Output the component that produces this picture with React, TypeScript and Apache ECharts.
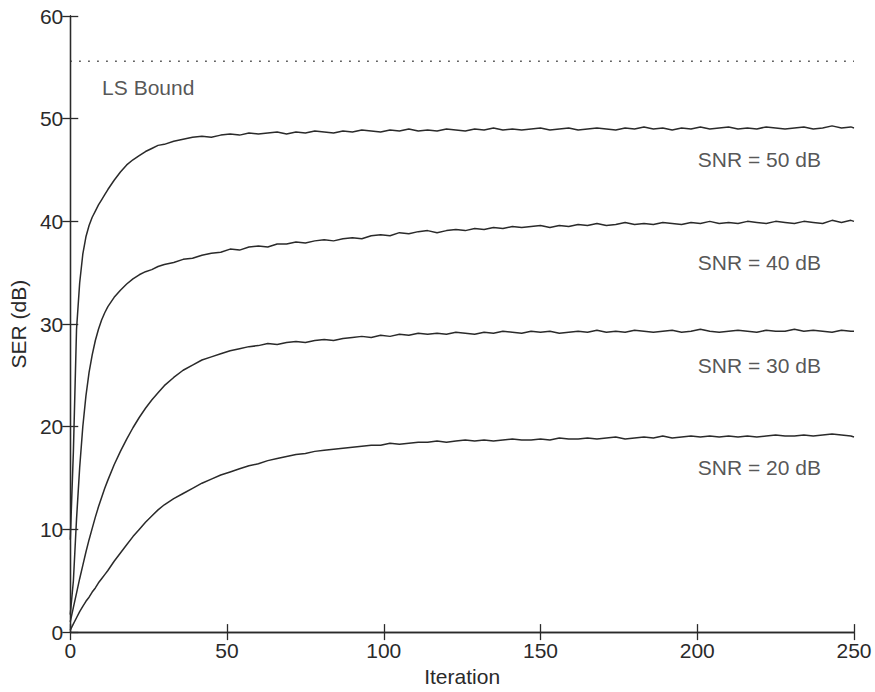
import React, { useEffect, useRef } from "react";
import * as echarts from "echarts";

// Iteration / SER(dB) samples
const SNR50: [number, number][] = [
  [0, 9.0], [1, 17.6], [2, 29.5], [3, 34.0], [4, 36.8], [5, 38.5], [6, 39.6], [7, 40.4], [8, 41.0], [9, 41.6],
  [10, 42.1], [11, 42.6], [12, 43.1], [14, 44.0], [16, 44.8], [18, 45.5], [20, 46.0], [22, 46.4], [24, 46.8],
  [26, 47.1], [28, 47.4], [30, 47.5], [33, 47.8], [36, 48.0], [39, 48.2], [42, 48.3], [45, 48.2], [48, 48.4],
  [51, 48.5], [54, 48.4], [57, 48.6], [60, 48.5], [63, 48.6], [66, 48.7], [69, 48.5], [72, 48.7], [75, 48.6],
  [78, 48.8], [81, 48.7], [84, 48.6], [87, 48.8], [90, 48.7], [93, 48.9], [96, 48.8], [99, 48.7], [102, 48.9],
  [105, 48.8], [108, 49.0], [111, 48.8], [114, 48.9], [117, 48.8], [120, 49.0], [123, 48.9], [126, 48.8],
  [129, 49.0], [132, 48.9], [135, 49.1], [138, 48.9], [141, 49.0], [144, 48.9], [147, 49.0], [150, 49.1],
  [153, 48.9], [156, 49.0], [159, 49.1], [162, 48.9], [165, 49.0], [168, 49.1], [171, 49.0], [174, 48.9],
  [177, 49.1], [180, 49.0], [183, 49.2], [186, 49.0], [189, 49.1], [192, 48.9], [195, 49.1], [198, 49.0],
  [201, 49.2], [204, 49.0], [207, 49.1], [210, 49.2], [213, 49.0], [216, 49.1], [219, 49.0], [222, 49.2],
  [225, 49.1], [228, 49.0], [231, 49.1], [234, 49.2], [237, 49.0], [240, 49.1], [243, 49.3], [246, 49.1],
  [249, 49.2], [250, 49.1],
];

const SNR40: [number, number][] = [
  [0, 1.7], [1, 5.0], [2, 11.0], [3, 16.0], [4, 20.0], [5, 23.0], [6, 25.3], [7, 27.0], [8, 28.4], [9, 29.5],
  [10, 30.4], [11, 31.1], [12, 31.7], [14, 32.6], [16, 33.3], [18, 33.9], [20, 34.4], [22, 34.8], [24, 35.1],
  [26, 35.3], [28, 35.6], [30, 35.8], [33, 36.0], [36, 36.3], [39, 36.4], [42, 36.7], [45, 36.9], [48, 37.0],
  [51, 37.3], [54, 37.2], [57, 37.5], [60, 37.6], [63, 37.5], [66, 37.8], [69, 37.8], [72, 38.0], [75, 37.9],
  [78, 38.1], [81, 38.2], [84, 38.1], [87, 38.3], [90, 38.4], [93, 38.3], [96, 38.6], [99, 38.7], [102, 38.6],
  [105, 38.9], [108, 38.8], [111, 39.0], [114, 39.1], [117, 38.9], [120, 39.1], [123, 39.2], [126, 39.1],
  [129, 39.3], [132, 39.2], [135, 39.4], [138, 39.3], [141, 39.5], [144, 39.4], [147, 39.5], [150, 39.6],
  [153, 39.4], [156, 39.6], [159, 39.5], [162, 39.7], [165, 39.6], [168, 39.8], [171, 39.6], [174, 39.7],
  [177, 39.9], [180, 39.7], [183, 39.8], [186, 39.7], [189, 39.9], [192, 39.8], [195, 39.7], [198, 39.9],
  [201, 39.8], [204, 40.0], [207, 39.8], [210, 39.9], [213, 39.8], [216, 40.0], [219, 39.9], [222, 39.8],
  [225, 40.0], [228, 39.9], [231, 39.8], [234, 40.0], [237, 39.9], [240, 39.8], [243, 40.1], [246, 39.9],
  [249, 40.1], [250, 40.0],
];

const SNR30: [number, number][] = [
  [0, 1.0], [1, 2.4], [2, 3.8], [3, 5.2], [4, 6.5], [5, 7.8], [6, 9.0], [7, 10.1], [8, 11.2], [9, 12.2],
  [10, 13.1], [11, 14.0], [12, 14.8], [14, 16.3], [16, 17.6], [18, 18.8], [20, 19.9], [22, 20.9], [24, 21.8],
  [26, 22.6], [28, 23.3], [30, 24.0], [33, 24.8], [36, 25.5], [39, 26.0], [42, 26.5], [45, 26.8], [48, 27.1],
  [51, 27.4], [54, 27.6], [57, 27.8], [60, 27.9], [63, 28.1], [66, 28.0], [69, 28.2], [72, 28.3], [75, 28.2],
  [78, 28.4], [81, 28.5], [84, 28.4], [87, 28.6], [90, 28.7], [93, 28.8], [96, 28.7], [99, 28.9], [102, 28.8],
  [105, 29.0], [108, 28.9], [111, 29.1], [114, 29.0], [117, 29.1], [120, 29.0], [123, 29.2], [126, 29.1],
  [129, 29.0], [132, 29.2], [135, 29.1], [138, 29.3], [141, 29.2], [144, 29.1], [147, 29.3], [150, 29.2],
  [153, 29.3], [156, 29.1], [159, 29.2], [162, 29.3], [165, 29.2], [168, 29.4], [171, 29.2], [174, 29.3],
  [177, 29.2], [180, 29.4], [183, 29.3], [186, 29.2], [189, 29.3], [192, 29.4], [195, 29.2], [198, 29.3],
  [201, 29.5], [204, 29.3], [207, 29.2], [210, 29.3], [213, 29.4], [216, 29.3], [219, 29.2], [222, 29.4],
  [225, 29.3], [228, 29.3], [231, 29.5], [234, 29.3], [237, 29.4], [240, 29.3], [243, 29.2], [246, 29.4],
  [249, 29.3], [250, 29.3],
];

const SNR20: [number, number][] = [
  [0, 0.2], [1, 0.8], [2, 1.4], [3, 2.0], [4, 2.5], [5, 3.0], [6, 3.4], [7, 3.9], [8, 4.3], [9, 4.8],
  [10, 5.2], [11, 5.6], [12, 6.0], [14, 6.9], [16, 7.7], [18, 8.5], [20, 9.3], [22, 10.0], [24, 10.7],
  [26, 11.3], [28, 11.9], [30, 12.4], [33, 13.0], [36, 13.5], [39, 14.0], [42, 14.5], [45, 14.9], [48, 15.3],
  [51, 15.6], [54, 15.9], [57, 16.2], [60, 16.4], [63, 16.7], [66, 16.9], [69, 17.1], [72, 17.3], [75, 17.4],
  [78, 17.6], [81, 17.7], [84, 17.8], [87, 17.9], [90, 18.0], [93, 18.1], [96, 18.2], [99, 18.2], [102, 18.4],
  [105, 18.3], [108, 18.4], [111, 18.5], [114, 18.5], [117, 18.6], [120, 18.5], [123, 18.6], [126, 18.7],
  [129, 18.6], [132, 18.7], [135, 18.6], [138, 18.7], [141, 18.8], [144, 18.7], [147, 18.7], [150, 18.8],
  [153, 18.7], [156, 18.9], [159, 18.8], [162, 18.8], [165, 18.9], [168, 18.8], [171, 18.9], [174, 19.0],
  [177, 18.8], [180, 18.9], [183, 19.0], [186, 18.9], [189, 19.1], [192, 18.9], [195, 19.0], [198, 19.1],
  [201, 19.0], [204, 19.1], [207, 19.0], [210, 19.1], [213, 19.0], [216, 19.1], [219, 19.0], [222, 19.1],
  [225, 19.2], [228, 19.1], [231, 19.1], [234, 19.2], [237, 19.1], [240, 19.2], [243, 19.3], [246, 19.2],
  [249, 19.1], [250, 19.0],
];

const LS_BOUND = 55.6;
const X_RANGE = [0, 250];
const Y_RANGE = [0, 60];
const X_STEP = 50;
const Y_STEP = 10;

// Annotations: [iteration, SER, text]
const ANNOTATIONS: [number, number, string][] = [
  [10, 53, "LS Bound"],
  [200, 46, "SNR = 50 dB"],
  [200, 36, "SNR = 40 dB"],
  [200, 26, "SNR = 30 dB"],
  [200, 16, "SNR = 20 dB"],
];

const FONT = "'Liberation Sans', Arial, Helvetica, sans-serif";
const INK = "#2a2a2a";

export default function App() {
  const ref = useRef<HTMLDivElement>(null);

  useEffect(() => {
    if (!ref.current) return;
    const chart = echarts.init(ref.current, null, { renderer: "svg" });
    const lineSeries = (name: string, data: [number, number][]) => ({
      name,
      type: "line",
      data,
      xAxisIndex: 0,
      yAxisIndex: 0,
      symbol: "none",
      smooth: false,
      lineStyle: { color: INK, width: 1.5 },
      z: 3,
    });
    const axisLine = { show: true, lineStyle: { color: INK, width: 1.3 } };
    const tick = { show: true, inside: true, length: 8, lineStyle: { color: INK, width: 1.3 } };
    const labelStyle = { color: INK, fontSize: 21, fontFamily: FONT };

    chart.setOption({
      animation: false,
      backgroundColor: "#ffffff",
      grid: { left: 65, right: 21, top: 16, bottom: 57, containLabel: false },
      xAxis: [
        {
          type: "value",
          min: X_RANGE[0],
          max: X_RANGE[1],
          interval: X_STEP,
          position: "bottom",
          name: "Iteration",
          nameLocation: "middle",
          nameGap: 31,
          nameTextStyle: labelStyle,
          axisLine,
          axisTick: tick,
          axisLabel: { ...labelStyle, margin: 8 },
          splitLine: { show: false },
        },
        {
          type: "value",
          min: X_RANGE[0],
          max: X_RANGE[1],
          interval: X_STEP,
          position: "top",
          axisLine,
          axisTick: tick,
          axisLabel: { show: false },
          splitLine: { show: false },
        },
      ],
      yAxis: [
        {
          type: "value",
          min: Y_RANGE[0],
          max: Y_RANGE[1],
          interval: Y_STEP,
          position: "left",
          name: "SER (dB)",
          nameLocation: "middle",
          nameGap: 36,
          nameTextStyle: labelStyle,
          axisLine,
          axisTick: tick,
          axisLabel: { ...labelStyle, margin: 7 },
          splitLine: { show: false },
        },
        {
          type: "value",
          min: Y_RANGE[0],
          max: Y_RANGE[1],
          interval: Y_STEP,
          position: "right",
          axisLine,
          axisTick: tick,
          axisLabel: { show: false },
          splitLine: { show: false },
        },
      ],
      series: [
        lineSeries("SNR = 50 dB", SNR50),
        lineSeries("SNR = 40 dB", SNR40),
        lineSeries("SNR = 30 dB", SNR30),
        lineSeries("SNR = 20 dB", SNR20),
        {
          name: "LS Bound",
          type: "line",
          data: [[X_RANGE[0], LS_BOUND], [X_RANGE[1], LS_BOUND]],
          symbol: "none",
          lineStyle: { color: INK, width: 1.4, type: [1.4, 7.6] },
          z: 2,
        },
        {
          name: "annotations",
          type: "scatter",
          data: ANNOTATIONS.map((a) => [a[0], a[1], a[2]]),
          symbolSize: 1,
          itemStyle: { color: "rgba(0,0,0,0)" },
          silent: true,
          label: {
            show: true,
            position: "right",
            distance: 0,
            align: "left",
            verticalAlign: "middle",
            formatter: (p: any) => p.data[2],
            color: INK,
            fontSize: 21,
            fontFamily: FONT,
          },
          z: 4,
        },
      ],
    });
    return () => chart.dispose();
  }, []);

  return (
    <div
      ref={ref}
      style={{ position: "fixed", left: 0, top: 0, width: 875, height: 692, background: "#fff" }}
    />
  );
}
